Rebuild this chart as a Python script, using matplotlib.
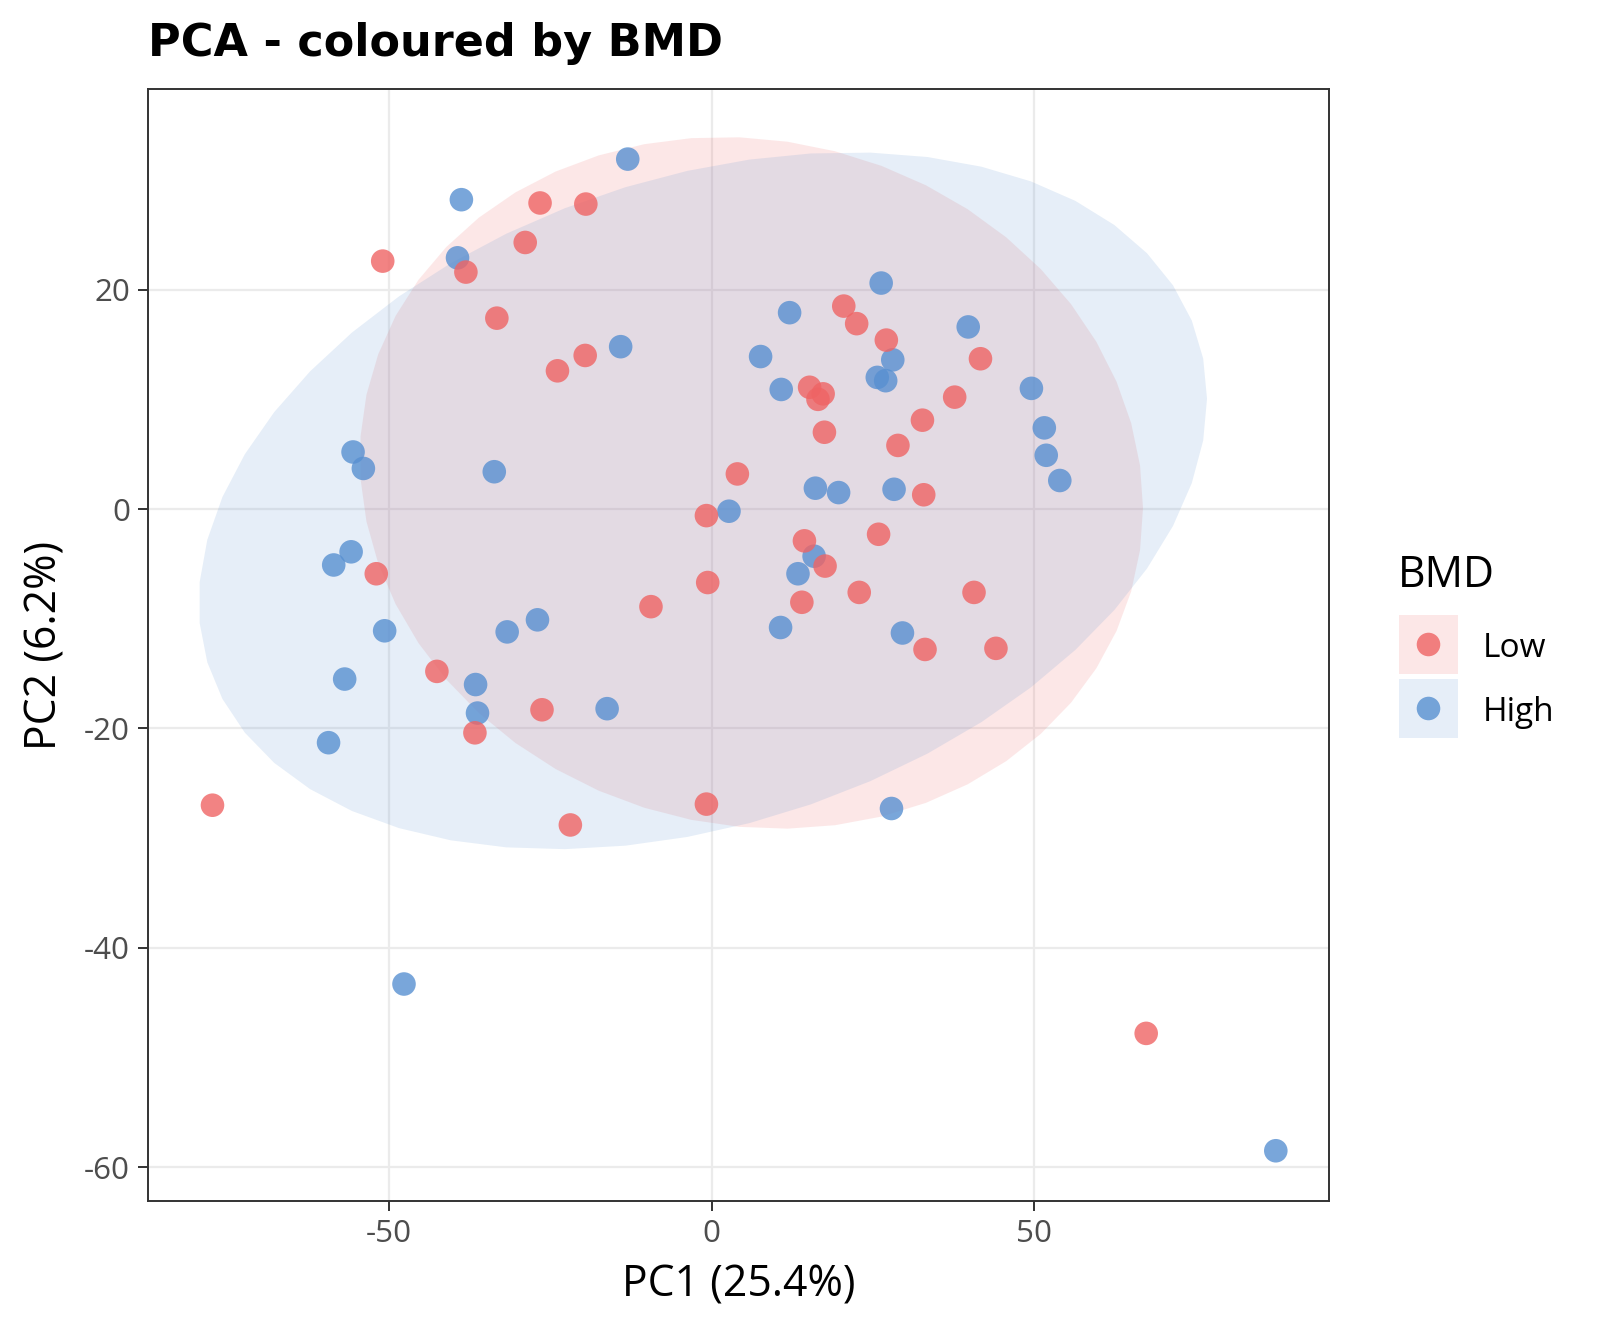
import numpy as np
import matplotlib
matplotlib.use("Agg")
import matplotlib.pyplot as plt
from matplotlib.patches import Polygon, Rectangle

# ---------------- data ----------------
low_pc1 = [-26.6, -19.5, -28.9, -51.0, -38.1, -33.3, -19.6, -23.9, 20.5, 22.5,
           27.1, 41.7, 15.2, 17.3, 16.5, 37.7, 17.5, 32.7, 28.9, 4.0,
           32.9, -0.8, 14.4, 17.6, 25.9, -0.6, -9.4, 14.0, 22.9, 40.7,
           33.1, 44.1, -0.8, -52.0, -42.6, -36.7, -26.3, -77.4, -21.9, 67.4]
low_pc2 = [27.9, 27.8, 24.3, 22.6, 21.6, 17.4, 14.0, 12.6, 18.5, 16.9,
           15.4, 13.7, 11.1, 10.5, 10.0, 10.2, 7.0, 8.1, 5.8, 3.2,
           1.3, -0.6, -2.9, -5.2, -2.3, -6.7, -8.9, -8.5, -7.6, -7.6,
           -12.8, -12.7, -26.9, -5.9, -14.8, -20.4, -18.3, -27.0, -28.8, -47.8]
high_pc1 = [-13.0, -38.8, -39.4, -14.1, -55.6, -54.0, -33.7, 26.3, 12.1, 28.1,
            39.8, 7.6, 10.8, 25.7, 27.0, 49.6, 51.6, 51.9, 54.0, 16.1,
            19.7, 28.3, 2.7, 15.9, 13.4, 10.7, 29.6, 27.9, -55.9, -58.6,
            -50.7, -31.7, -27.0, -56.9, -36.6, -36.3, -16.2, -59.4, -47.7, 87.5]
high_pc2 = [31.9, 28.2, 22.9, 14.8, 5.2, 3.7, 3.4, 20.6, 17.9, 13.6,
            16.6, 13.9, 10.9, 12.0, 11.7, 11.0, 7.4, 4.9, 2.6, 1.9,
            1.5, 1.8, -0.2, -4.3, -5.9, -10.8, -11.3, -27.3, -3.9, -5.1,
            -11.1, -11.2, -10.1, -15.5, -16.0, -18.6, -18.2, -21.3, -43.3, -58.5]

groups = ["Low", "High"]
group_colors = {"Low": "#EF6464", "High": "#5890D1"}
x_ticks = [-50, 0, 50]
y_ticks = [-60, -40, -20, 0, 20]
title = "PCA - coloured by BMD"
x_label = "PC1 (25.4%)"
y_label = "PC2 (6.2%)"
legend_title = "BMD"
ellipse_level = 0.9

data = {"Low": np.column_stack([low_pc1, low_pc2]),
        "High": np.column_stack([high_pc1, high_pc2])}


# ---------------- ggplot2 stat_ellipse (type = "t") ----------------
def cov_trob(x, nu=5, maxit=25, tol=0.01):
    n, p = x.shape
    wt = np.ones(n)
    loc = x.mean(axis=0)
    w = np.sqrt(wt)
    X = x - loc
    for _ in range(maxit):
        w0 = w
        X = x - loc
        A = np.sqrt(w / w.sum())[:, None] * X
        _, d, vt = np.linalg.svd(A, full_matrices=False)
        wX = X @ vt.T @ np.diag(1.0 / d)
        Q = (wX ** 2).sum(axis=1)
        w = (wt * (nu + p)) / (nu + Q)
        loc = (w[:, None] * x).sum(axis=0) / w.sum()
        if np.all(np.abs(w - w0) < tol):
            break
    sw = np.sqrt(w)[:, None] * X
    cov = sw.T @ sw / wt.sum()
    return loc, cov


def ellipse_points(x, level=0.95, segments=51):
    loc, cov = cov_trob(x)
    dfn, dfd = 2, len(x) - 1
    qf = (dfd / 2.0) * ((1 - level) ** (-2.0 / dfd) - 1)   # F(2, dfd) quantile
    radius = np.sqrt(dfn * qf)
    L = np.linalg.cholesky(cov)
    ang = np.arange(segments + 1) * 2 * np.pi / segments
    circ = np.column_stack([np.cos(ang), np.sin(ang)])
    return loc + radius * (circ @ L.T)


# ---------------- figure ----------------
W, H = 1600, 1333
DPI = 200
fig = plt.figure(figsize=(W / DPI, H / DPI), dpi=DPI)
ax = fig.add_axes([148 / W, 1 - 1201 / H, (1329 - 148) / W, (1201 - 89) / H])

text_font = ["Open Sans", "DejaVu Sans"]

ax.set_xlim(-87.4, 95.75)
ax.set_ylim(-63.08, 38.29)

ax.set_axisbelow(True)
ax.grid(True, color="#EBEBEB", linewidth=0.8)
for s in ax.spines.values():
    s.set_color("#333333")
    s.set_linewidth(0.7)

ell_alpha = 0.15
for g in groups:
    pts = ellipse_points(data[g], level=ellipse_level)
    ax.add_patch(Polygon(pts, closed=True, facecolor=group_colors[g],
                         alpha=ell_alpha, edgecolor="none", zorder=1))

pt_alpha = 0.8
pt_size = 72
for g in ["High", "Low"]:
    ax.scatter(data[g][:, 0], data[g][:, 1], s=pt_size, color=group_colors[g],
               alpha=pt_alpha, edgecolors="none", zorder=3)

ax.set_xticks(x_ticks)
ax.set_yticks(y_ticks)
ax.set_xticklabels([str(v) for v in x_ticks])
ax.set_yticklabels([str(v) for v in y_ticks])
ax.tick_params(axis="both", colors="#333333", length=3.5, width=0.7,
               labelsize=11.3, labelcolor="#4D4D4D", pad=3)
for lab in ax.get_xticklabels() + ax.get_yticklabels():
    lab.set_family(text_font)

ax.set_xlabel(x_label, fontsize=15.4, family=text_font, color="black", labelpad=5)
ax.set_ylabel(y_label, fontsize=15.4, family=text_font, color="black", labelpad=6)

fig.text(148 / W, 1 - 56 / H, title, fontsize=16.0, fontweight="bold",
         family="DejaVu Sans", ha="left", va="baseline")

# ---------------- legend (ggplot-style keys) ----------------
lax = fig.add_axes([0, 0, 1, 1], facecolor="none")
lax.set_xlim(0, W)
lax.set_ylim(H, 0)
lax.set_axis_off()

lax.text(1398, 587, legend_title, fontsize=15.4, family=text_font,
         ha="left", va="baseline", color="black")
key_x, key_y0, key_size, key_pitch = 1399, 615, 59, 64
for i, g in enumerate(groups):
    y = key_y0 + i * key_pitch
    lax.add_patch(Rectangle((key_x, y), key_size, key_size, facecolor=group_colors[g],
                            alpha=ell_alpha, edgecolor="none"))
    lax.scatter([key_x + key_size / 2], [y + key_size / 2], s=pt_size,
                color=group_colors[g], alpha=pt_alpha, edgecolors="none")
    lax.text(1483, y + key_size / 2, g, fontsize=12, family=text_font,
             ha="left", va="center_baseline", color="black")

fig.savefig("out.png", dpi=DPI, facecolor="white")
